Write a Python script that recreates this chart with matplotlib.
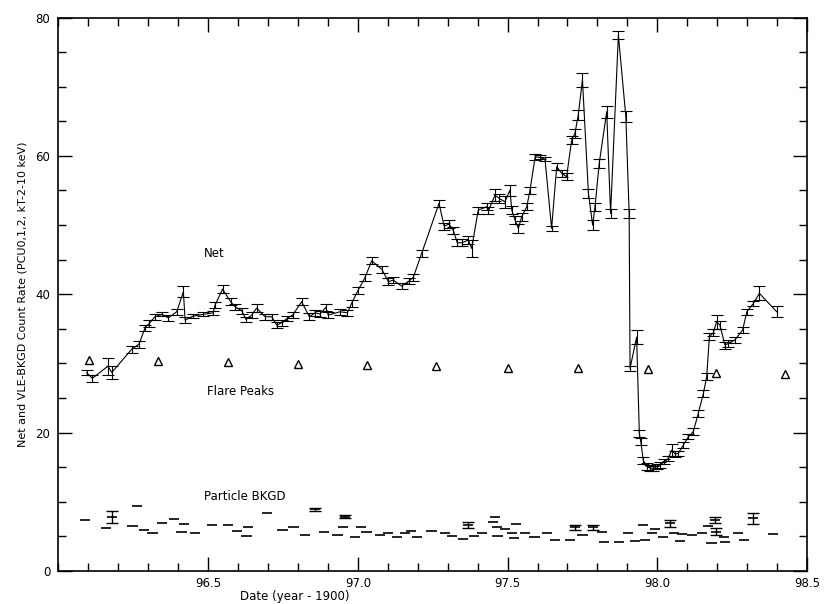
import matplotlib
matplotlib.use("Agg")
import matplotlib.pyplot as plt
import numpy as np
from matplotlib.ticker import MultipleLocator

# Net count rate (PCU0,1,2, 2-10 keV)
net_date = [96.094, 96.113, 96.165, 96.178, 96.245, 96.269, 96.289, 96.303, 96.322, 96.345,
            96.367, 96.395, 96.417, 96.423, 96.450, 96.484, 96.517, 96.523, 96.548, 96.575,
            96.590, 96.612, 96.626, 96.645, 96.662, 96.690, 96.712, 96.729, 96.745, 96.764,
            96.782, 96.812, 96.838, 96.857, 96.873, 96.893, 96.901, 96.940, 96.965, 96.979,
            97.001, 97.024, 97.046, 97.080, 97.102, 97.118, 97.146, 97.172, 97.185, 97.213,
            97.271, 97.288, 97.305, 97.319, 97.332, 97.347, 97.369, 97.380, 97.402, 97.430,
            97.436, 97.458, 97.472, 97.491, 97.508, 97.514, 97.525, 97.536, 97.547, 97.564,
            97.575, 97.592, 97.608, 97.625, 97.647, 97.664, 97.681, 97.697, 97.714, 97.725,
            97.736, 97.750, 97.770, 97.784, 97.792, 97.806, 97.831, 97.844, 97.870, 97.895,
            97.906, 97.909, 97.931, 97.940, 97.945, 97.953, 97.965, 97.975, 97.987, 97.998,
            98.009, 98.024, 98.037, 98.048, 98.060, 98.070, 98.087, 98.104, 98.120, 98.137,
            98.154, 98.165, 98.174, 98.187, 98.198, 98.209, 98.226, 98.237, 98.259, 98.285,
            98.299, 98.321, 98.341, 98.399]
net_rate = [28.66, 27.85, 29.60, 28.70, 32.08, 32.80, 35.12, 35.79, 36.75, 37.10,
            36.60, 37.47, 40.36, 36.27, 36.85, 37.10, 37.33, 38.44, 40.75, 38.92,
            38.19, 37.62, 36.37, 36.99, 38.00, 36.75, 36.75, 35.55, 35.88, 36.52,
            36.99, 38.92, 36.75, 37.33, 37.14, 38.11, 36.99, 37.47, 37.33, 38.68,
            40.61, 42.44, 44.84, 43.60, 41.81, 42.05, 41.18, 41.95, 42.44, 45.91,
            53.14, 49.86, 50.14, 49.18, 47.44, 47.44, 47.83, 46.63, 52.17, 52.64,
            52.07, 54.34, 53.86, 53.37, 55.06, 52.17, 50.72, 49.52, 51.20, 52.64,
            55.06, 59.87, 59.78, 59.49, 49.52, 58.43, 57.47, 56.98, 62.28, 63.25,
            65.90, 71.00, 54.58, 50.00, 52.64, 58.92, 66.37, 51.69, 77.46, 65.65,
            51.69, 29.30, 33.80, 19.90, 18.69, 16.04, 15.07, 14.90, 14.84, 15.10,
            15.32, 15.80, 16.29, 17.49, 16.90, 17.01, 18.21, 19.41, 20.13, 22.79,
            25.68, 28.08, 33.86, 34.44, 36.03, 35.55, 32.66, 32.90, 33.38, 34.83,
            37.47, 38.68, 40.13, 37.47]
net_err = [0.4, 0.5, 1.2, 1.0, 0.5, 0.5, 0.5, 0.5, 0.4, 0.3,
           0.4, 0.4, 0.8, 0.4, 0.3, 0.3, 0.3, 0.4, 0.6, 0.5,
           0.4, 0.4, 0.4, 0.4, 0.6, 0.4, 0.4, 0.4, 0.4, 0.4,
           0.4, 0.5, 0.5, 0.4, 0.4, 0.5, 0.4, 0.4, 0.4, 0.5,
           0.5, 0.5, 0.5, 0.5, 0.5, 0.4, 0.4, 0.4, 0.5, 0.5,
           0.5, 0.5, 0.6, 0.5, 0.5, 0.5, 0.6, 1.2, 0.5, 0.5,
           0.5, 0.9, 0.6, 0.9, 0.8, 0.6, 0.6, 0.6, 0.6, 0.5,
           0.5, 0.4, 0.3, 0.3, 0.4, 0.5, 0.5, 0.5, 0.6, 0.6,
           0.7, 1.0, 0.6, 0.7, 0.6, 0.6, 0.9, 0.6, 0.6, 0.8,
           0.6, 0.4, 1.0, 0.5, 0.5, 0.5, 0.5, 0.4, 0.4, 0.4,
           0.4, 0.4, 0.4, 0.8, 0.4, 0.4, 0.4, 0.4, 0.5, 0.5,
           0.5, 0.5, 0.5, 0.5, 1.0, 0.6, 0.5, 0.5, 0.4, 0.4,
           0.4, 0.4, 1.0, 0.8]

# Flare peak times (85-day cycle markers)
peak_date = [96.103, 96.331, 96.567, 96.799, 97.032, 97.262, 97.500, 97.736, 97.970, 98.196, 98.426]
peak_level = [30.5, 30.3, 30.2, 29.9, 29.8, 29.7, 29.4, 29.3, 29.2, 28.6, 28.5]

# Particle background (VLE) rate
bkg_date = [96.089, 96.159, 96.178, 96.261, 96.247, 96.286, 96.314, 96.347, 96.386, 96.411,
            96.419, 96.456, 96.513, 96.566, 96.596, 96.628, 96.633, 96.696, 96.748, 96.785,
            96.823, 96.857, 96.887, 96.932, 96.949, 96.957, 96.990, 97.010, 97.029, 97.075,
            97.101, 97.131, 97.157, 97.177, 97.197, 97.246, 97.291, 97.314, 97.351, 97.368,
            97.388, 97.415, 97.458, 97.451, 97.465, 97.466, 97.491, 97.516, 97.528, 97.521,
            97.558, 97.590, 97.632, 97.658, 97.708, 97.725, 97.750, 97.785, 97.814, 97.822,
            97.872, 97.902, 97.926, 97.952, 97.959, 97.982, 97.992, 98.042, 98.019, 98.076,
            98.056, 98.083, 98.116, 98.149, 98.169, 98.193, 98.181, 98.196, 98.226, 98.223,
            98.270, 98.290, 98.320, 98.387]
bkg_rate = [7.37, 6.17, 7.85, 9.44, 6.50, 5.92, 5.44, 6.89, 7.47, 5.68,
            6.79, 5.54, 6.65, 6.65, 5.83, 5.10, 6.40, 8.34, 5.92, 6.31,
            5.20, 8.92, 5.68, 5.20, 6.40, 7.85, 4.96, 6.31, 5.68, 5.20,
            5.44, 4.87, 5.54, 5.83, 4.87, 5.83, 5.44, 5.06, 4.58, 6.65,
            5.06, 5.44, 7.85, 7.13, 6.40, 5.06, 6.02, 5.54, 6.79, 4.73,
            5.54, 4.87, 5.54, 4.48, 4.48, 6.31, 5.20, 6.31, 5.68, 4.24,
            4.24, 5.54, 4.38, 6.65, 4.48, 5.44, 6.02, 6.89, 4.96, 4.38,
            5.44, 5.35, 5.20, 5.54, 6.50, 7.37, 4.09, 5.68, 4.24, 4.96,
            5.44, 4.48, 7.61, 5.35]
bkg_err = [0, 0, 0.87, 0, 0, 0, 0, 0, 0, 0,
           0, 0, 0, 0, 0, 0, 0, 0, 0, 0,
           0, 0.2, 0, 0, 0, 0.2, 0, 0, 0, 0,
           0, 0, 0, 0, 0, 0, 0, 0, 0, 0.4,
           0, 0, 0, 0, 0, 0, 0, 0, 0, 0,
           0, 0, 0, 0, 0, 0.4, 0, 0.4, 0, 0,
           0, 0, 0, 0, 0, 0, 0, 0.5, 0, 0,
           0, 0, 0, 0, 0, 0.5, 0, 0.5, 0, 0,
           0, 0, 0.8, 0]
bkg_halfbin = 0.017

fig = plt.figure(figsize=(8.38, 6.04), dpi=100)
ax = fig.add_axes([0.0698, 0.0546, 0.8932, 0.9164])

ax.errorbar(net_date, net_rate, yerr=net_err, color='black', lw=0.8,
            elinewidth=0.8, capsize=4, capthick=0.8)

ax.plot(peak_date, peak_level, linestyle='none', marker='^', markersize=5.5,
        markerfacecolor='white', markeredgecolor='black', markeredgewidth=1.0)

bd = np.array(bkg_date)
br = np.array(bkg_rate)
be = np.array(bkg_err)
ax.hlines(br, bd - bkg_halfbin, bd + bkg_halfbin, color='black', lw=1.2)
has_err = be > 0
ax.errorbar(bd[has_err], br[has_err], yerr=be[has_err], fmt='none', ecolor='black',
            elinewidth=1.0, capsize=4, capthick=1.0)

ax.text(96.52, 45.9, 'Net', fontsize=8.5, ha='center', va='center')
ax.text(96.607, 25.9, 'Flare Peaks', fontsize=8.5, ha='center', va='center')
ax.text(96.623, 10.7, 'Particle BKGD', fontsize=8.5, ha='center', va='center')

ax.set_xlim(96.0, 98.5)
ax.set_ylim(0, 80)
ax.xaxis.set_minor_locator(MultipleLocator(0.1))
ax.yaxis.set_major_locator(MultipleLocator(20))
ax.yaxis.set_minor_locator(MultipleLocator(5))
ax.set_xticks([96.5, 97.0, 97.5, 98.0, 98.5])
ax.set_xticklabels(['96.5', '97.0', '97.5', '98.0', '98.5'])
ax.tick_params(which='both', direction='in', top=True, right=True, labelsize=8.5, width=1.0)
ax.tick_params(which='major', length=10)
ax.tick_params(axis='x', which='major', pad=4)
ax.tick_params(axis='y', which='major', pad=6)
ax.tick_params(which='minor', length=6)
for s in ax.spines.values():
    s.set_linewidth(1.2)

ax.set_ylabel('Net and VLE-BKGD Count Rate (PCU0,1,2, kT-2-10 keV)', fontsize=8)
ax.yaxis.set_label_coords(-0.042, 0.5)
ax.set_xlabel('Date (year - 1900)', fontsize=8.5, va='top')
ax.xaxis.set_label_coords(0.316, -0.034)

fig.savefig('out.png', dpi=100)
